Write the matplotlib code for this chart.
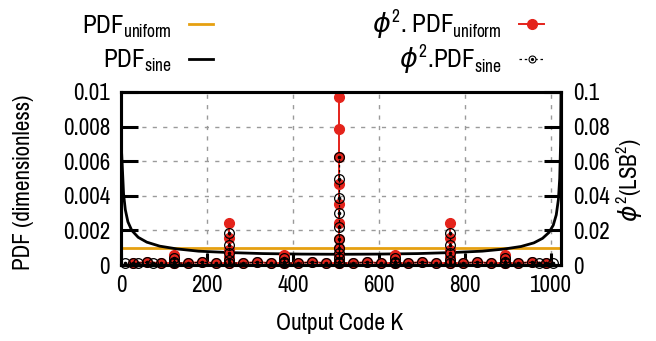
import matplotlib
matplotlib.use('Agg')
import matplotlib.pyplot as plt
from matplotlib import font_manager as fm

_have = {f.name for f in fm.fontManager.ttflist}
MAIN = next((n for n in ['Liberation Sans Narrow', 'Pragati Narrow',
                         'Roboto Condensed'] if n in _have), 'DejaVu Sans')
plt.rcParams['font.family'] = [MAIN, 'DejaVu Sans']
plt.rcParams['mathtext.fontset'] = 'custom'
plt.rcParams['mathtext.rm'] = MAIN
plt.rcParams['mathtext.it'] = 'DejaVu Sans:italic'
plt.rcParams['mathtext.bf'] = MAIN + ':bold'

# ---------------- data ----------------
x_ticks = [0, 200, 400, 600, 800, 1000]
y_ticks = [0, 0.002, 0.004, 0.006, 0.008, 0.01]
y_tick_labels = ['0', '0.002', '0.004', '0.006', '0.008', '0.01']
y2_ticks = [0, 0.02, 0.04, 0.06, 0.08, 0.1]
y2_tick_labels = ['0', '0.02', '0.04', '0.06', '0.08', '0.1']

pdf_uniform_codes = [0, 1023]
pdf_uniform = [0.00098, 0.00098]

pdf_sine_codes = [1, 3, 6, 10, 16, 25, 40, 60, 90, 130, 180, 250, 330, 420, 512,
                  600, 690, 770, 840, 890, 930, 960, 980, 995, 1005, 1012, 1017,
                  1020, 1022, 1023]
pdf_sine = [0.0067, 0.0057, 0.0041, 0.0032, 0.0025, 0.0020, 0.0016, 0.00132,
            0.00109, 0.00093, 0.00080, 0.00072, 0.00066, 0.00063, 0.00062,
            0.00063, 0.00066, 0.00072, 0.00080, 0.00092, 0.00107, 0.00128,
            0.00154, 0.00188, 0.0023, 0.0029, 0.0038, 0.0050, 0.0070, 0.0099]

base_codes = [28, 60, 92, 124, 156, 188, 220, 252, 284, 316, 348, 380, 412, 444,
              476, 508, 540, 572, 604, 636, 668, 700, 732, 764, 796, 828, 860,
              892, 924, 956, 988]
base_phi2_uniform = [0.0010, 0.0018, 0.0010, 0.0012, 0.0010, 0.0018, 0.0010,
                     0.0012, 0.0010, 0.0018, 0.0010, 0.0012, 0.0010, 0.0018,
                     0.0010, 0.0012, 0.0010, 0.0018, 0.0010, 0.0012, 0.0010,
                     0.0018, 0.0010, 0.0012, 0.0010, 0.0018, 0.0010, 0.0012,
                     0.0010, 0.0018, 0.0010]
sine_codes = [9, 28, 40, 60, 74, 92, 124, 156, 188, 220, 252, 284, 316, 348, 380,
              412, 444, 476, 508, 540, 572, 604, 636, 668, 700, 732, 764, 796,
              828, 860, 892, 924, 956, 972, 988, 1004]
sine_phi2 = [0.0009, 0.0010, 0.0009, 0.0016, 0.0009, 0.0010, 0.0012, 0.0010,
             0.0016, 0.0010, 0.0012, 0.0010, 0.0016, 0.0010, 0.0012, 0.0010,
             0.0016, 0.0010, 0.0012, 0.0010, 0.0016, 0.0010, 0.0012, 0.0010,
             0.0016, 0.0010, 0.0012, 0.0010, 0.0016, 0.0010, 0.0012, 0.0010,
             0.0016, 0.0009, 0.0010, 0.0009]

stack_codes = [124, 252, 380, 508, 636, 764, 892]
stack_kind = ['128', '256', '128', '512', '128', '256', '128']
red_stack = {
    '128': [0.0012, 0.0030, 0.0060],
    '256': [0.0012, 0.0046, 0.0087, 0.0156, 0.0240],
    '512': [0.0012, 0.0030, 0.0058, 0.0098, 0.0150, 0.0240, 0.0350, 0.0470,
            0.0624, 0.0786, 0.0970],
}
black_stack = {
    '128': [0.0020, 0.0040],
    '256': [0.0030, 0.0069, 0.0116, 0.0185],
    '512': [0.0020, 0.0040, 0.0069, 0.0098, 0.0150, 0.0220, 0.0300, 0.0390,
            0.0500, 0.0624],
}

# ---------------- styles ----------------
RED = '#e4231b'
ORANGE = '#e6a010'
FS = 18
LFS = 19.5

fig = plt.figure(figsize=(6.56, 3.41), dpi=100)
W, H = 656, 341
L, R, T, B = 121, 561, 92, 265
ax = fig.add_axes([L / W, (H - B) / H, (R - L) / W, (B - T) / H])
ax.set_xlim(0, 1023)
ax.set_ylim(0, 0.01)

ax.set_xticks(x_ticks)
ax.set_xticklabels([str(v) for v in x_ticks])
ax.set_yticks(y_ticks)
ax.set_yticklabels(y_tick_labels)
ax.tick_params(axis='x', direction='in', length=8.5, width=2.2, top=False,
               labelsize=FS, pad=7)
ax.tick_params(axis='y', direction='in', length=12, width=2.2, right=False,
               labelsize=FS, pad=8)
ax.grid(True, color='#9a9a9a', linestyle=(0, (3, 4.5)), linewidth=1.0)
ax.set_axisbelow(True)

ax.plot(pdf_uniform_codes, pdf_uniform, color=ORANGE, lw=2.0, zorder=3)
ax.plot(pdf_sine_codes, pdf_sine, color='black', lw=2.0, zorder=3,
        solid_joinstyle='round')

ax2 = ax.twinx()
ax2.set_ylim(0, 0.1)
ax2.set_yticks(y2_ticks)
ax2.set_yticklabels(y2_tick_labels)
ax2.tick_params(axis='y', direction='in', length=12, width=2.2, labelsize=FS,
                pad=9)

# red series: baseline + stacks
ax2.plot(base_codes, base_phi2_uniform, color=RED, lw=1.4, marker='o', ms=7,
         mfc=RED, mec=RED, clip_on=False, zorder=4)
for code, kind in zip(stack_codes, stack_kind):
    vals = red_stack[kind]
    ax2.plot([code] * len(vals), vals, color=RED, lw=1.4, marker='o', ms=7,
             mfc=RED, mec=RED, clip_on=False, zorder=4)

# black series
ax2.plot(sine_codes, sine_phi2, color='black', lw=0.9, linestyle=(0, (2, 2)),
         marker='o', ms=7, mfc='none', mec='black', mew=0.9, clip_on=False,
         zorder=5)
ax2.plot(sine_codes, sine_phi2, linestyle='none', marker='o', ms=1.6,
         mfc='black', mec='black', clip_on=False, zorder=5)
for code, kind in zip(stack_codes, stack_kind):
    vals = black_stack[kind]
    ax2.plot([code] * len(vals), vals, color='black', lw=0.9,
             linestyle=(0, (2, 2)), marker='o', ms=7, mfc='none', mec='black',
             mew=0.9, clip_on=False, zorder=5)
    ax2.plot([code] * len(vals), vals, linestyle='none', marker='o', ms=1.6,
             mfc='black', mec='black', clip_on=False, zorder=5)

for a in (ax, ax2):
    for s in a.spines.values():
        s.set_linewidth(2.2)
        s.set_zorder(10)

# axis labels
fig.text(24 / W, 1 - 182 / H, 'PDF (dimensionless)', rotation=90, ha='center',
         va='center', fontsize=FS)
fig.text(630 / W, 1 - 180 / H, r'$\phi^2(\mathrm{LSB}^2)$', rotation=90,
         ha='center', va='center', fontsize=FS)
fig.text(340 / W, 1 - 324 / H, 'Output Code K', ha='center', va='center',
         fontsize=FS + 0.5)

# legend (layout, pixel positions)
lax = fig.add_axes([0, 0, 1, 1])
lax.set_xlim(0, W)
lax.set_ylim(H, 0)
lax.axis('off')
rows = [24, 59]
dy = 9
lax.text(172, rows[0] + dy, r'$\mathrm{PDF}_{\mathrm{uniform}}$', ha='right',
         va='baseline', fontsize=LFS)
lax.text(172, rows[1] + dy, r'$\mathrm{PDF}_{\mathrm{sine}}$', ha='right',
         va='baseline', fontsize=LFS)
lax.plot([189, 213], [rows[0], rows[0]], color=ORANGE, lw=2.0)
lax.plot([189, 213], [rows[1], rows[1]], color='black', lw=2.0)
lax.text(502, rows[0] + dy, r'$\phi^2$. $\mathrm{PDF}_{\mathrm{uniform}}$',
         ha='right', va='baseline', fontsize=LFS)
lax.text(502, rows[1] + dy, r'$\phi^2$.$\mathrm{PDF}_{\mathrm{sine}}$',
         ha='right', va='baseline', fontsize=LFS)
lax.plot([519, 544], [rows[0], rows[0]], color=RED, lw=1.4)
lax.plot([531.5], [rows[0]], marker='o', ms=7, color=RED)
lax.plot([519, 544], [rows[1], rows[1]], color='black', lw=0.9,
         linestyle=(0, (2, 2.2)))
lax.plot([531.5], [rows[1]], marker='o', ms=5, mfc='white', mec='black',
         mew=0.8)
lax.plot([531.5], [rows[1]], marker='o', ms=1.3, color='black')

fig.savefig('out.png', dpi=100)
